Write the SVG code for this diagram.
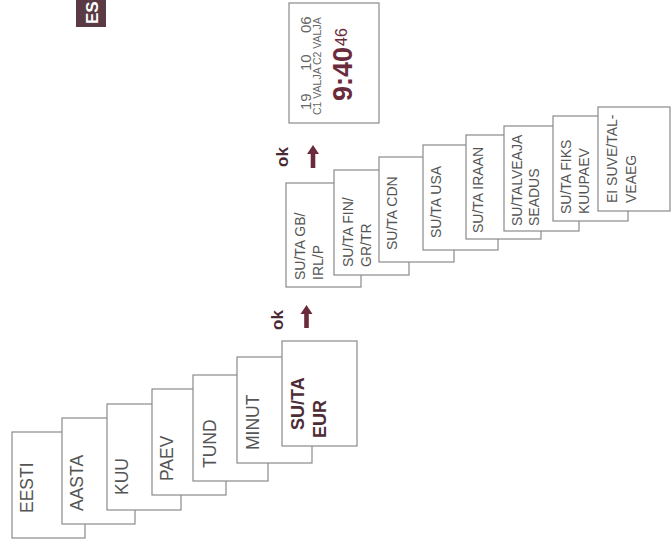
<svg xmlns="http://www.w3.org/2000/svg" width="671" height="547" viewBox="0 0 671 547">
<style>
.box{fill:#fff;stroke:#8a8a8a;stroke-width:1.2}
.lbl{font-family:"Liberation Sans",Arial,sans-serif;font-size:17.5px;fill:#555}
.lbs{font-family:"Liberation Sans",Arial,sans-serif;font-size:14px;fill:#555}
.bold{font-family:"Liberation Sans",Arial,sans-serif;font-size:18px;font-weight:bold;fill:#4e2c36}
.ok{font-family:"Liberation Sans",Arial,sans-serif;font-size:17px;font-weight:bold;fill:#4a2a32}
.arr{fill:#6a2c3c}
.maroon{font-family:"Liberation Sans",Arial,sans-serif;fill:#6a2c3c}
.thin{font-family:"Liberation Sans",Arial,sans-serif;fill:#666}
</style>
<defs>
<path id="arrow" d="M0,0 L6,9 L2.3,9 L2.3,23 L-2.3,23 L-2.3,9 L-6,9 Z"/>
</defs>
<rect width="671" height="547" fill="#fff"/>

<g id="tag">
<rect x="76" y="0" width="30" height="27" fill="#5a3a44"/>
<text transform="translate(98,24) rotate(-90)" font-family="Liberation Sans, Arial, sans-serif" font-size="17" font-weight="bold" fill="#fff">ES</text>
</g>

<g id="n-eesti"><rect class="box" x="12" y="432" width="73" height="106"/><text class="lbl" transform="translate(33,513) rotate(-90)">EESTI</text></g>
<g id="n-aasta"><rect class="box" x="62" y="418" width="73" height="106"/><text class="lbl" transform="translate(83,511) rotate(-90)">AASTA</text></g>
<g id="n-kuu"><rect class="box" x="107" y="404" width="74" height="106"/><text class="lbl" transform="translate(128,495) rotate(-90)">KUU</text></g>
<g id="n-paev"><rect class="box" x="152" y="389" width="74" height="106"/><text class="lbl" transform="translate(173,481) rotate(-90)">PAEV</text></g>
<g id="n-tund"><rect class="box" x="193" y="375" width="75" height="106"/><text class="lbl" transform="translate(216,468) rotate(-90)">TUND</text></g>
<g id="n-minut"><rect class="box" x="237" y="357" width="75" height="106"/><text class="lbl" transform="translate(259,450) rotate(-90)">MINUT</text></g>
<g id="n-suta-eur"><rect class="box" x="282" y="341" width="75" height="105"/><text class="bold" transform="translate(304,430) rotate(-90)">SU/TA</text><text class="bold" transform="translate(326,438) rotate(-90)">EUR</text></g>

<g id="n-gb"><rect class="box" x="286" y="183" width="75" height="104"/><text class="lbs" transform="translate(305,280) rotate(-90)">SU/TA GB/<tspan x="0" dy="18">IRL/P</tspan></text></g>
<g id="n-fin"><rect class="box" x="334" y="170" width="75" height="105"/><text class="lbs" transform="translate(353,267) rotate(-90)">SU/TA FIN/<tspan x="0" dy="18">GR/TR</tspan></text></g>
<g id="n-cdn"><rect class="box" x="379" y="157" width="75" height="105"/><text class="lbs" transform="translate(397,250) rotate(-90)">SU/TA CDN</text></g>
<g id="n-usa"><rect class="box" x="423" y="145" width="75" height="105"/><text class="lbs" transform="translate(441,238) rotate(-90)">SU/TA USA</text></g>
<g id="n-iraan"><rect class="box" x="466" y="135" width="75" height="104"/><text class="lbs" transform="translate(483,233) rotate(-90)">SU/TA IRAAN</text></g>
<g id="n-talveaja"><rect class="box" x="504" y="126" width="75" height="105"/><text class="lbs" transform="translate(522,226) rotate(-90)">SU/TALVEAJA<tspan x="0" dy="17">SEADUS</tspan></text></g>
<g id="n-fiks"><rect class="box" x="553" y="116" width="75" height="105"/><text class="lbs" transform="translate(571,214) rotate(-90)">SU/TA FIKS<tspan x="0" dy="18">KUUPAEV</tspan></text></g>
<g id="n-eisuve"><rect class="box" x="598" y="107" width="72" height="104"/><text class="lbs" transform="translate(617,203) rotate(-90)">EI SUVE/TAL-<tspan x="0" dy="19">VEAEG</tspan></text></g>

<g id="n-display">
<rect class="box" x="289" y="3" width="90" height="120"/>
<text class="thin" font-size="15" transform="translate(311,110) rotate(-90)">19</text>
<text class="thin" font-size="15" transform="translate(311,71) rotate(-90)">10</text>
<text class="thin" font-size="15" transform="translate(311,33) rotate(-90)">06</text>
<text class="thin" font-size="10.5" transform="translate(321,115) rotate(-90)">C1 VALJA C2 VALJA</text>
<text class="maroon" font-size="27" font-weight="bold" transform="translate(352,101) rotate(-90)">9:40</text>
<text class="maroon" font-size="16" transform="translate(347,46) rotate(-90)">46</text>
</g>

<g id="connectors">
<text class="ok" transform="translate(283,330) rotate(-90)">ok</text>
<use href="#arrow" class="arr" transform="translate(306.5,305)"/>
<text class="ok" transform="translate(288,167) rotate(-90)">ok</text>
<use href="#arrow" class="arr" transform="translate(313,145)"/>
</g>
</svg>
